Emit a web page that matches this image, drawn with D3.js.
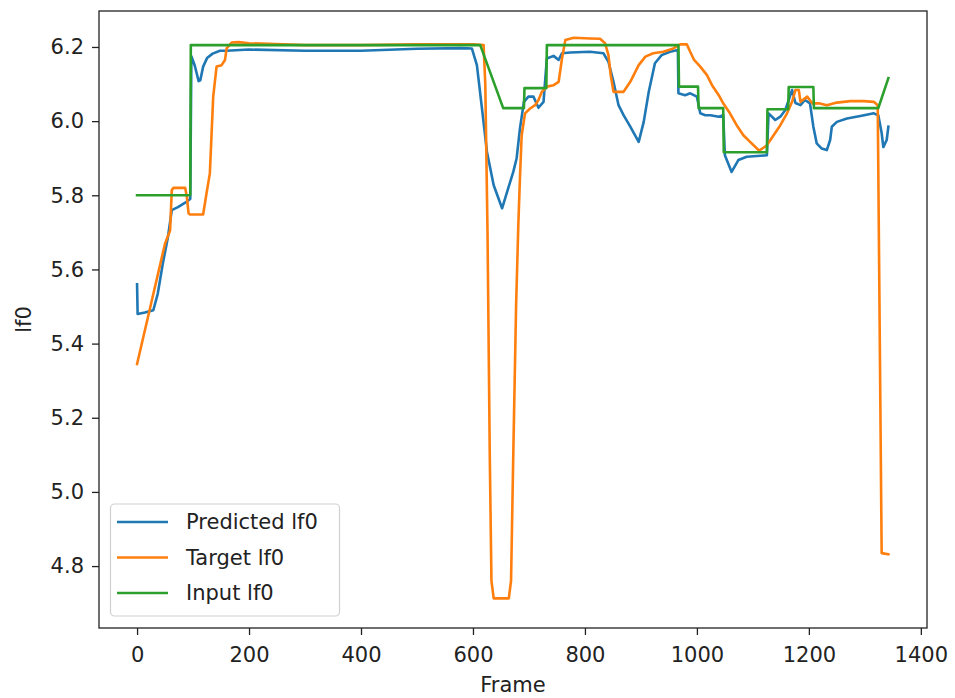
<!DOCTYPE html>
<html>
<head>
<meta charset="utf-8">
<script src="https://cdn.jsdelivr.net/npm/d3@7"></script>
<style>
  html, body { margin: 0; padding: 0; background: #fff; }
  svg { display: block; font-family: "DejaVu Sans", sans-serif; }
</style>
</head>
<body>
<svg id="chart" width="955" height="698"></svg>
<script>
// ---- data ----
const xTicks = [0, 200, 400, 600, 800, 1000, 1200, 1400];
const yTicks = [4.8, 5.0, 5.2, 5.4, 5.6, 5.8, 6.0, 6.2];
const seriesNames = ["Predicted lf0", "Target lf0", "Input lf0"];
const seriesColors = ["#1f77b4", "#ff7f0e", "#2ca02c"];

const predFrames = [0,1,14,29,37,46,55,62,73,86,95,97,103,110,113,118,125,135,148,160,200,300,400,500,580,598,607,616,625,637,652,663,672,678,684,691,699,708,717,726,732,744,753,759,774,809,833,842,851,860,869,881,896,905,914,925,937,952,966,967,979,988,1000,1006,1015,1024,1039,1047,1050,1062,1074,1089,1125,1128,1140,1149,1158,1164,1170,1176,1185,1193,1202,1208,1214,1223,1232,1238,1241,1250,1268,1292,1316,1324,1330,1333,1339,1342];
const predValues = [5.56,5.48,5.484,5.49,5.535,5.616,5.686,5.76,5.768,5.78,5.79,6.175,6.15,6.108,6.11,6.147,6.17,6.182,6.19,6.19,6.193,6.19,6.19,6.195,6.197,6.196,6.151,6.035,5.917,5.827,5.765,5.819,5.863,5.9,5.981,6.052,6.066,6.066,6.036,6.052,6.169,6.176,6.165,6.183,6.185,6.187,6.183,6.16,6.106,6.043,6.016,5.985,5.944,5.998,6.079,6.156,6.178,6.187,6.192,6.075,6.07,6.075,6.066,6.021,6.016,6.016,6.012,6.016,5.908,5.863,5.895,5.904,5.908,6.021,6.003,6.012,6.03,6.057,6.084,6.049,6.043,6.057,6.048,5.985,5.94,5.926,5.922,5.949,5.985,5.998,6.007,6.014,6.021,6.016,5.968,5.93,5.949,5.985];

const targetFrames = [0,50,59,62,65,86,89,92,95,118,124,130,136,142,151,157,160,169,181,200,300,400,500,600,619,622,626,630,633,637,664,668,672,677,681,684,687,693,702,711,717,723,732,744,753,759,765,780,809,827,836,842,846,851,869,881,896,908,922,940,958,970,982,988,995,1006,1018,1027,1039,1047,1059,1071,1083,1095,1110,1113,1125,1137,1149,1161,1170,1176,1182,1185,1197,1206,1218,1232,1250,1274,1298,1316,1323,1330,1342];
const targetValues = [5.345,5.67,5.705,5.814,5.82,5.82,5.795,5.751,5.748,5.748,5.805,5.859,6.066,6.147,6.151,6.165,6.196,6.212,6.213,6.21,6.205,6.205,6.207,6.207,6.205,6.1,5.7,5.1,4.76,4.713,4.713,4.76,5.1,5.5,5.72,5.85,5.962,6.021,6.034,6.043,6.057,6.079,6.093,6.097,6.106,6.169,6.219,6.225,6.223,6.222,6.21,6.178,6.124,6.079,6.079,6.106,6.151,6.174,6.183,6.187,6.196,6.207,6.207,6.187,6.165,6.147,6.124,6.097,6.07,6.048,6.021,5.989,5.962,5.944,5.922,5.922,5.935,5.962,5.989,6.021,6.052,6.084,6.084,6.052,6.066,6.048,6.048,6.043,6.05,6.054,6.054,6.052,6.043,4.835,4.832];

const inputFrames = [0,95,96,613,654,691,692,731,732,967,968,1002,1003,1047,1048,1125,1126,1163,1164,1208,1209,1324,1342];
const inputValues = [5.8,5.8,6.205,6.205,6.035,6.035,6.089,6.089,6.205,6.205,6.093,6.093,6.035,6.035,5.916,5.916,6.032,6.032,6.092,6.092,6.035,6.035,6.116];

// ---- layout ----
const svg = d3.select("#chart");
const plot = { left: 99, right: 927, top: 11, bottom: 628 };

const x = d3.scaleLinear().domain([-68, 1411]).range([plot.left, plot.right]);
const y = d3.scaleLinear().domain([4.633, 6.297]).range([plot.bottom, plot.top]);

const series = [
  { name: seriesNames[0], color: seriesColors[0], pts: d3.zip(predFrames, predValues) },
  { name: seriesNames[1], color: seriesColors[1], pts: d3.zip(targetFrames, targetValues) },
  { name: seriesNames[2], color: seriesColors[2], pts: d3.zip(inputFrames, inputValues) }
];

const line = d3.line().x(d => x(d[0])).y(d => y(d[1]));

svg.append("defs").append("clipPath").attr("id", "clip")
  .append("rect").attr("x", plot.left).attr("y", plot.top)
  .attr("width", plot.right - plot.left).attr("height", plot.bottom - plot.top);

const lines = svg.append("g").attr("clip-path", "url(#clip)");
series.forEach(s => {
  lines.append("path").datum(s.pts)
    .attr("d", line)
    .attr("fill", "none")
    .attr("stroke", s.color)
    .attr("stroke-width", 2.6)
    .attr("stroke-linejoin", "round")
    .attr("stroke-linecap", "square");
});

// frame
svg.append("rect")
  .attr("x", plot.left).attr("y", plot.top)
  .attr("width", plot.right - plot.left).attr("height", plot.bottom - plot.top)
  .attr("fill", "none").attr("stroke", "#222").attr("stroke-width", 1.3);

// axes
const xAxis = svg.append("g")
  .attr("transform", `translate(0,${plot.bottom})`)
  .call(d3.axisBottom(x).tickValues(xTicks).tickFormat(d3.format("d")).tickSize(7).tickPadding(12));
const yAxis = svg.append("g")
  .attr("transform", `translate(${plot.left},0)`)
  .call(d3.axisLeft(y).tickValues(yTicks).tickFormat(d3.format(".1f")).tickSize(7).tickPadding(8));

[xAxis, yAxis].forEach(a => {
  a.select(".domain").remove();
  a.selectAll(".tick line").attr("stroke", "#222").attr("stroke-width", 1.3);
  a.selectAll(".tick text").attr("fill", "#222")
    .style("font-family", "'DejaVu Sans', sans-serif").style("font-size", "21px");
});

// axis labels
svg.append("text")
  .attr("x", (plot.left + plot.right) / 2).attr("y", 692)
  .attr("text-anchor", "middle").attr("fill", "#222")
  .style("font-size", "21px").text("Frame");
svg.append("text")
  .attr("transform", `translate(31,${(plot.top + plot.bottom) / 2}) rotate(-90)`)
  .attr("text-anchor", "middle").attr("fill", "#222")
  .style("font-size", "21px").text("lf0");

// legend
const leg = svg.append("g");
leg.append("rect")
  .attr("x", 110.5).attr("y", 504).attr("width", 229).attr("height", 112)
  .attr("rx", 4).attr("fill", "#fff").attr("fill-opacity", 0.8)
  .attr("stroke", "#d0d0d0").attr("stroke-width", 1.2);
series.forEach((s, i) => {
  const ly = 522 + i * 35.5;
  leg.append("line").attr("x1", 117).attr("x2", 168).attr("y1", ly).attr("y2", ly)
    .attr("stroke", s.color).attr("stroke-width", 2.6);
  leg.append("text").attr("x", 186).attr("y", ly).attr("dy", "0.35em")
    .attr("fill", "#222").style("font-size", "21px").text(s.name);
});
</script>
</body>
</html>
